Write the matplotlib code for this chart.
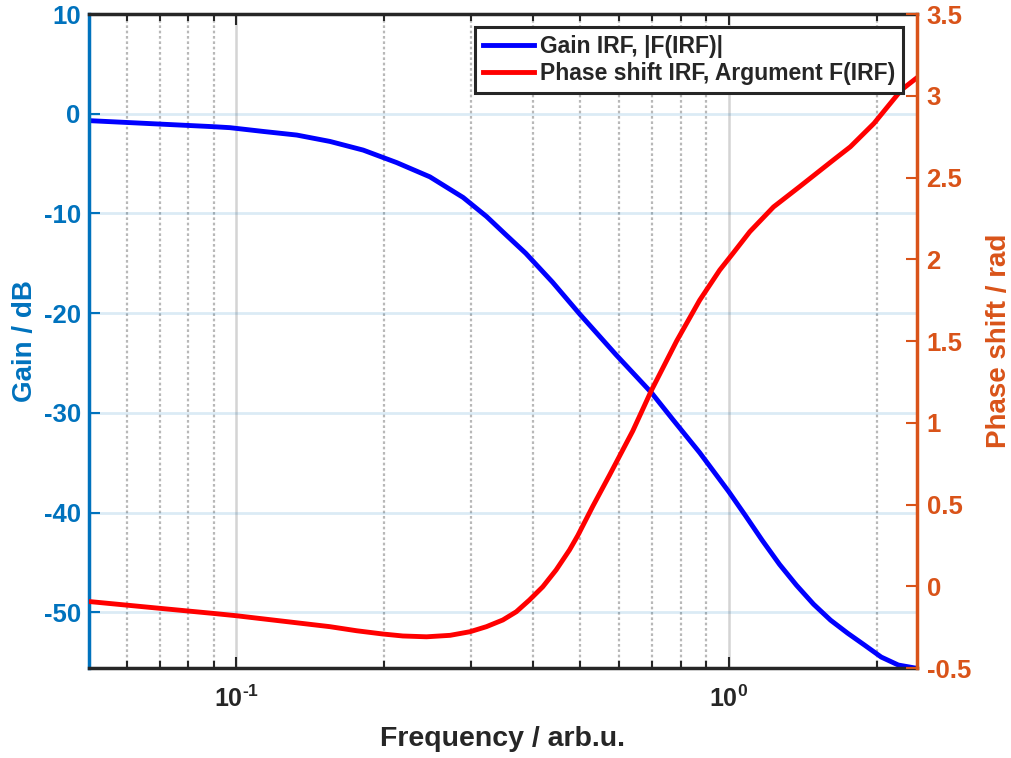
import numpy as np
import matplotlib.pyplot as plt
from matplotlib.ticker import LogLocator, NullFormatter, FixedLocator

plt.rcParams['font.family'] = ['Liberation Sans', 'DejaVu Sans']
plt.rcParams['font.weight'] = 'bold'
plt.rcParams['axes.labelweight'] = 'bold'
plt.rcParams['axes.unicode_minus'] = False
plt.rcParams['mathtext.fontset'] = 'custom'
plt.rcParams['mathtext.rm'] = 'Liberation Sans:bold'
plt.rcParams['mathtext.it'] = 'Liberation Sans:bold'
plt.rcParams['mathtext.bf'] = 'Liberation Sans:bold'
plt.rcParams['mathtext.default'] = 'rm'

# Gain curve
f_gain = [0.0506, 0.0701, 0.0899, 0.0972, 0.1136, 0.1328, 0.1551, 0.1812, 0.2118,
          0.2474, 0.289, 0.3223, 0.354, 0.3873, 0.439, 0.4985, 0.5912, 0.6974,
          0.771, 0.8733, 1.0, 1.081, 1.17, 1.268, 1.373, 1.487, 1.61, 1.743,
          1.887, 2.04, 2.21, 2.39, 2.41]
gain = [-0.7, -1.04, -1.3, -1.4, -1.78, -2.14, -2.78, -3.65, -4.9,
        -6.33, -8.4, -10.3, -12.2, -14.0, -16.9, -20.1, -24.2, -28.0,
        -30.7, -34.0, -37.9, -40.3, -42.8, -45.2, -47.3, -49.2, -50.8, -52.1,
        -53.3, -54.5, -55.3, -55.6, -55.6]

# Phase curve
f_phase = [0.0506, 0.0701, 0.0899, 0.1, 0.155, 0.1757, 0.1987, 0.218, 0.2436, 0.272,
           0.2984, 0.3223, 0.348, 0.3705, 0.394, 0.4194, 0.4464, 0.4752, 0.4939,
           0.53, 0.573, 0.6387, 0.6974, 0.784, 0.8733, 0.959, 1.02, 1.104, 1.233,
           1.393, 1.631, 1.766, 1.972, 2.24, 2.41]
phase = [-0.094, -0.135, -0.166, -0.18, -0.247, -0.272, -0.292, -0.304, -0.309, -0.30,
         -0.278, -0.247, -0.206, -0.156, -0.084, -0.003, 0.10, 0.222, 0.31,
         0.49, 0.68, 0.95, 1.2, 1.5, 1.75, 1.934, 2.036, 2.169, 2.32,
         2.444, 2.607, 2.688, 2.831, 3.035, 3.11]

left_ticks = [-50, -40, -30, -20, -10, 0, 10]
right_ticks = [-0.5, 0, 0.5, 1, 1.5, 2, 2.5, 3, 3.5]
right_labels = ['-0.5', '0', '0.5', '1', '1.5', '2', '2.5', '3', '3.5']

c_left = '#0072BD'
c_right = '#D95319'
c_ax = '#262626'

fig = plt.figure(figsize=(10.12, 7.58), dpi=100)
ax1 = fig.add_axes([0.088, 0.1187, 0.818, 0.8628])
ax2 = ax1.twinx()

l1, = ax1.plot(f_gain, gain, color='#0000FF', lw=3.5, label='Gain IRF, |F(IRF)|')
l2, = ax2.plot(f_phase, phase, color='#FF0000', lw=3.5, label='Phase shift IRF, Argument F(IRF)')

ax1.set_xscale('log')
ax1.set_xlim(0.0503, 2.41)
ax1.set_ylim(-55.6, 10)
ax2.set_ylim(-0.5, 3.5)

ax1.xaxis.set_major_locator(FixedLocator([0.1, 1.0]))
ax1.set_xticklabels([r'$10^{\text{-}1}$', r'$10^{0}$'])
ax1.xaxis.set_minor_locator(LogLocator(base=10, subs=np.arange(2, 10), numticks=20))
ax1.xaxis.set_minor_formatter(NullFormatter())
ax1.set_yticks(left_ticks)
ax2.set_yticks(right_ticks)
ax2.set_yticklabels(right_labels)

ax1.grid(True, axis='y', color=c_left, alpha=0.14, lw=2)
ax1.grid(True, axis='x', which='major', color='#d4d4d4', lw=1.8)
ax1.grid(True, axis='x', which='minor', color='#b8b8b8', lw=1.6, ls=(0, (1.2, 1.2)))
ax1.set_axisbelow(True)

ax1.tick_params(axis='x', which='both', direction='in', top=True, colors=c_ax,
                labelsize=18, pad=13)
ax1.tick_params(axis='x', which='major', length=8, width=1.5)
ax1.tick_params(axis='x', which='minor', length=5, width=1.5)
ax1.tick_params(axis='y', direction='in', length=8, width=1.5, colors=c_left,
                labelsize=18.5, pad=6)
ax2.tick_params(axis='y', direction='in', length=8, width=1.5, colors=c_right,
                labelsize=18.5, pad=7)

for s in ['top', 'bottom']:
    ax1.spines[s].set_color(c_ax)
    ax1.spines[s].set_linewidth(2.5)
ax1.spines['left'].set_color(c_left)
ax1.spines['left'].set_linewidth(2.5)
ax2.spines['right'].set_color(c_right)
ax2.spines['right'].set_linewidth(2.5)
ax2.spines['left'].set_visible(False)
ax2.spines['top'].set_visible(False)
ax2.spines['bottom'].set_visible(False)
ax1.spines['right'].set_visible(False)

ax1.set_xlabel('Frequency / arb.u.', fontsize=20.5, color=c_ax, labelpad=10)
ax1.set_ylabel('Gain / dB', fontsize=20, color=c_left)
ax2.set_ylabel('Phase shift / rad', fontsize=20, color=c_right)
ax1.yaxis.set_label_coords(-0.062, 0.5)
ax2.yaxis.set_label_coords(1.083, 0.5)

leg = ax2.legend(handles=[l1, l2], loc='upper right', bbox_to_anchor=(0.983, 0.98),
                 borderaxespad=0, fontsize=16.5, fancybox=False, framealpha=1,
                 edgecolor=c_ax, handlelength=2.2, handletextpad=0.25,
                 borderpad=0.35, labelspacing=0.15)
leg.get_frame().set_linewidth(2.2)
for t in leg.get_texts():
    t.set_color(c_ax)

fig.savefig('out.png', dpi=100)
